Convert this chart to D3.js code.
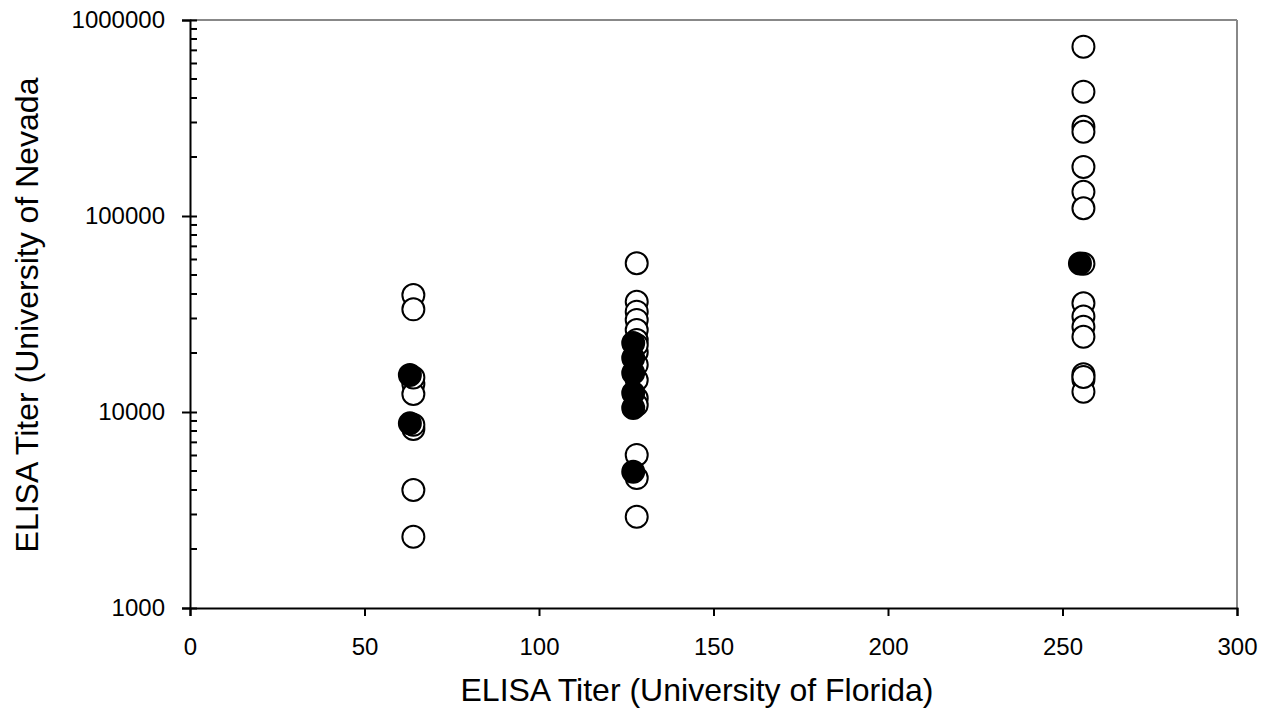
<!DOCTYPE html>
<html><head><meta charset="utf-8">
<script src="https://cdn.jsdelivr.net/npm/d3@7"></script>
<style>body{margin:0;background:#fff}svg text{font-family:"Liberation Sans",Arial,sans-serif;fill:#000}</style>
</head><body><svg id="c" width="1264" height="718"></svg>
<script>
const xTicks = [0, 50, 100, 150, 200, 250, 300];
const yTicks = [1000, 10000, 100000, 1000000];
// open circles: [Florida titer, Nevada titer]
const openX = [64,64,64,64,64,64,64,64,64,
  128,128,128,128,128,128,128,128,128,128,128,128,128,128,128,
  256,256,256,256,256,256,256,256,256,256,256,256,256,256,256,256];
const openY = [39500,33400,13900,12350,8190,4000,2310,15000,8600,
  57400,36500,32500,29500,26200,23300,20200,17400,14560,11770,10860,6040,4600,2920,22000,
  731000,431000,285000,269000,178000,133000,109500,57000,35900,30700,27200,24200,15600,14600,12700,15100];
// filled circles
const filledX = [63,63,127,127,127,127,127,127,255];
const filledY = [15450,8750,22500,18860,15800,12500,10470,4960,57300];

const svg = d3.select("#c");
const L=190, R=1237, T=20, B=608;
const x = d3.scaleLinear().domain([0,300]).range([L,R]);
const y = d3.scaleLog().domain([1000,1000000]).range([B,T]);

// frame
svg.append("line").attr("x1",L).attr("x2",R).attr("y1",T).attr("y2",T).attr("stroke","#888").attr("stroke-width",2);
svg.append("line").attr("x1",R).attr("x2",R).attr("y1",T).attr("y2",B).attr("stroke","#888").attr("stroke-width",2);

// x axis
const gx = svg.append("g").attr("transform",`translate(0,${B})`)
  .call(d3.axisBottom(x).tickValues(xTicks).tickSize(8).tickPadding(22).tickFormat(d3.format("d")));
gx.select(".domain").attr("stroke","#000").attr("stroke-width",2);
gx.selectAll(".tick line").attr("stroke","#000").attr("stroke-width",2);
gx.selectAll(".tick text").attr("font-size",24).style("font-family","'Liberation Sans',Arial,sans-serif");

// y axis
const gy = svg.append("g").attr("transform",`translate(${L},0)`)
  .call(d3.axisLeft(y).tickValues(yTicks).tickSize(8).tickPadding(17).tickFormat(d3.format("d")));
gy.select(".domain").attr("stroke","#000").attr("stroke-width",2);
gy.selectAll(".tick line").attr("stroke","#000").attr("stroke-width",2).attr("x2",-8).attr("x1",7);
gy.selectAll(".tick text").attr("font-size",24).style("font-family","'Liberation Sans',Arial,sans-serif");
// minor ticks
const minor = [];
[1000,10000,100000].forEach(d=>{for(let k=2;k<=9;k++) minor.push(d*k);});
svg.append("g").selectAll("line").data(minor).join("line")
  .attr("x1",L).attr("x2",L+7).attr("y1",d=>y(d)).attr("y2",d=>y(d))
  .attr("stroke","#000").attr("stroke-width",2);

// points
const openPts = openX.map((v,i)=>[v,openY[i]]);
const filledPts = filledX.map((v,i)=>[v,filledY[i]]);
svg.append("g").selectAll("circle").data(openPts).join("circle")
  .attr("cx",d=>x(d[0])).attr("cy",d=>y(d[1])).attr("r",11)
  .attr("fill","#fff").attr("stroke","#000").attr("stroke-width",2);
svg.append("g").selectAll("circle").data(filledPts).join("circle")
  .attr("cx",d=>x(d[0])).attr("cy",d=>y(d[1])).attr("r",11)
  .attr("fill","#000").attr("stroke","#000").attr("stroke-width",2);

// titles
svg.append("text").attr("x",697).attr("y",701).attr("text-anchor","middle")
  .attr("font-size",32).text("ELISA Titer (University of Florida)");
svg.append("text").attr("transform",`translate(38,315) rotate(-90)`).attr("text-anchor","middle")
  .attr("font-size",32).text("ELISA Titer (University of Nevada");
</script></body></html>
